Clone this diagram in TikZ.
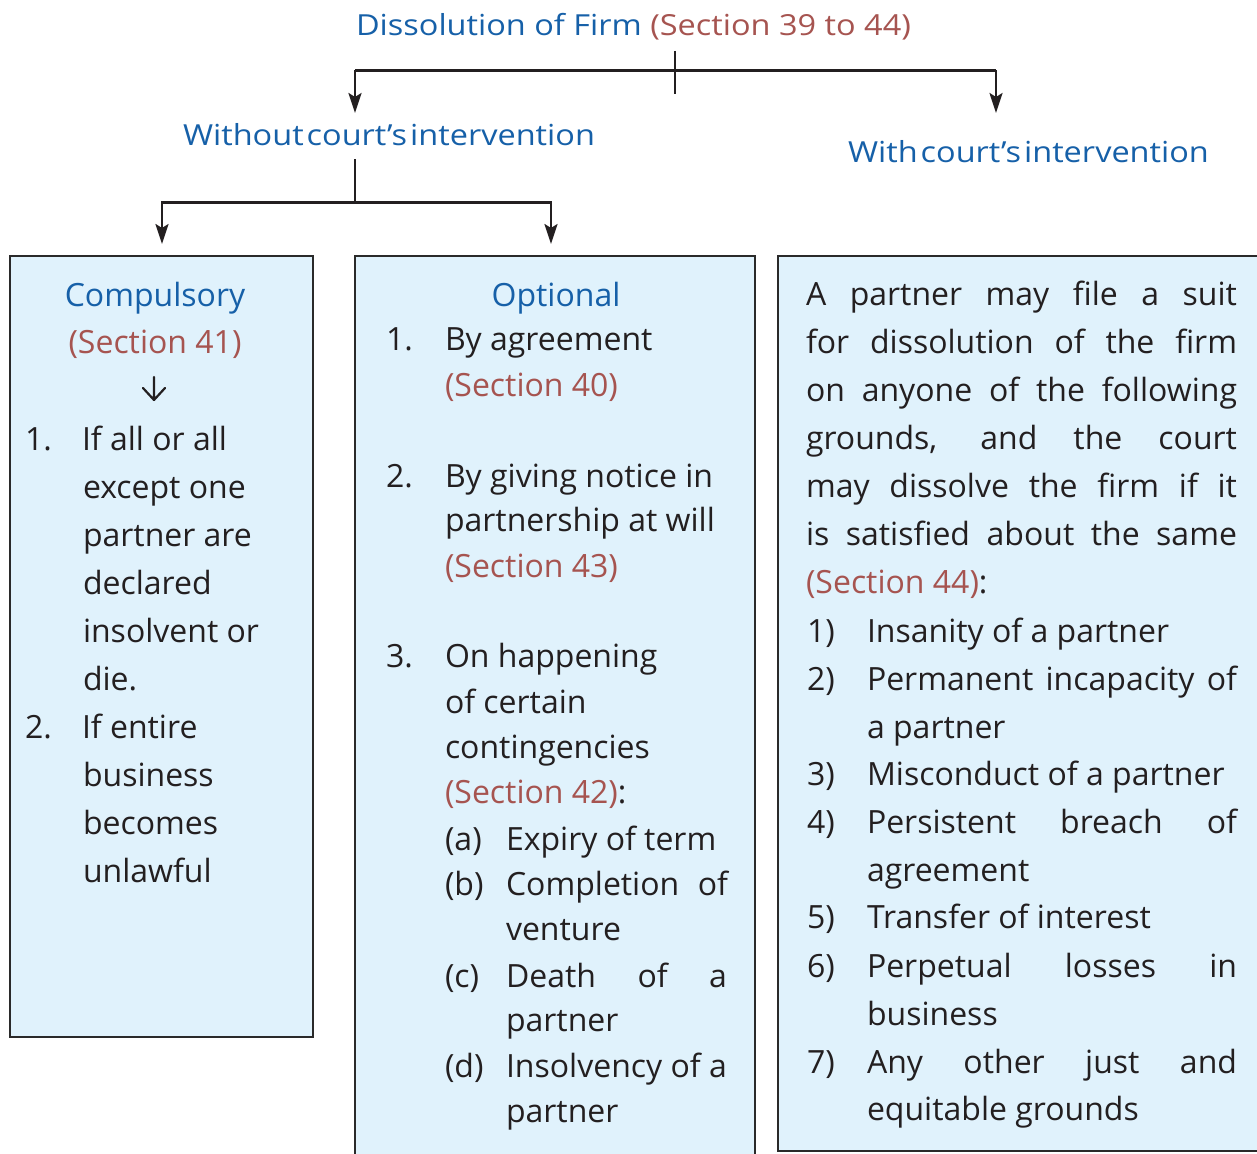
\documentclass[tikz,border=0pt]{standalone}
\usepackage{fontspec}
\setmainfont{Open Sans}
\newfontfamily\headfont[FakeStretch=1.12]{Open Sans}
\usetikzlibrary{arrows.meta}
\definecolor{hdblue}{RGB}{22,96,168}
\definecolor{secred}{RGB}{166,84,80}
\definecolor{boxfill}{RGB}{224,242,252}
\definecolor{ink}{RGB}{35,31,32}
\definecolor{edge}{RGB}{42,42,42}
\begin{document}
\begin{tikzpicture}[x=1pt,y=-1pt,
  txt/.style={anchor=base west, inner sep=0pt, outer sep=0pt, text=ink, font=\fontsize{32}{38}\selectfont},
  sec/.style={txt, text=secred},
  hd/.style={txt, text=hdblue},
  toptxt/.style={txt, text=hdblue, font=\headfont\fontsize{29}{36}\selectfont},
  panel/.style={draw=edge, line width=2.5pt, fill=boxfill, inner sep=0pt, outer sep=0pt, anchor=north west},
  conn/.style={line width=2.4pt, draw=ink, line join=miter},
  hconn/.style={line width=3pt, draw=ink},
  tips/.style={{Stealth[length=20pt,width=13pt,inset=4pt]}-{Stealth[length=20pt,width=13pt,inset=4pt]}}
]
\useasboundingbox (0,0) rectangle (1257,1153);

% ---------- panels ----------
\node[panel, minimum width=303pt, minimum height=781pt] (cbox) at (10,256) {};
\node[panel, minimum width=400pt, minimum height=920pt] (obox) at (355,256) {};
\node[panel, minimum width=480pt, minimum height=895pt] (rbox) at (778,256) {};

% ---------- headings ----------
\node[toptxt] (title) at (356,36) {\textcolor{hdblue}{Dissolution of Firm} \textcolor{secred}{(Section 39 to 44)}};
\node[toptxt] (wo) at (183,145) {Without\hspace{3pt}court’s\hspace{3pt}intervention};
\node[toptxt] (wi) at (848,162) {With\hspace{3pt}court’s\hspace{3pt}intervention};

% ---------- connectors ----------
\coordinate (stemT) at (675,51);
\coordinate (stemB) at (675,94);
\coordinate (hL) at (355,71);
\coordinate (hR) at (996,71);
\coordinate (woTip) at (355,113);
\coordinate (wiTip) at (996,113);
\draw[conn] (stemT) -- (stemB);
\draw[conn,tips] (woTip) -- (hL) -- (hR) -- (wiTip);
\draw[hconn] (hL) -- (hR);

\coordinate (s2T) at (355,159);
\coordinate (s2J) at (355,202);
\coordinate (h2L) at (162,202);
\coordinate (h2R) at (551,202);
\coordinate (cTip) at (162,244);
\coordinate (oTip) at (551,244);
\draw[conn] (s2T) -- (s2J);
\draw[conn,tips] (cTip) -- (h2L) -- (h2R) -- (oTip);
\draw[hconn] (h2L) -- (h2R);

% ---------- compulsory box ----------
\node[hd, anchor=base] (comp) at (155,306) {Compulsory};
\node[sec, anchor=base] (s41) at (155,353) {(Section 41)};
\coordinate (dnA) at (154,377);
\coordinate (dnB) at (154,400);
\coordinate (dnL) at (143,388);
\coordinate (dnR) at (165,388);
\draw[line width=2.2pt, draw=ink, line cap=round, line join=round] (dnA) -- (dnB) (dnL) -- (dnB) -- (dnR);
\node[txt] (c1n) at (25,450) {1.};
\node[txt] (c1a) at (82,450) {If all or all};
\node[txt] (c1b) at (83,498) {except one};
\node[txt] (c1c) at (83,546) {partner are};
\node[txt] (c1d) at (83,594) {declared};
\node[txt] (c1e) at (83,642) {insolvent or};
\node[txt] (c1f) at (83,690) {die.};
\node[txt] (c2n) at (25,738) {2.};
\node[txt] (c2a) at (82,738) {If entire};
\node[txt] (c2b) at (83,786) {business};
\node[txt] (c2c) at (83,834) {becomes};
\node[txt] (c2d) at (83,882) {unlawful};

% ---------- optional box ----------
\node[hd, anchor=base] (opt) at (556,306) {Optional};
\node[txt] (o1n) at (386,350) {1.};
\node[txt] (o1a) at (445,350) {By agreement};
\node[sec] (o1s) at (445,396) {(Section 40)};
\node[txt] (o2n) at (386,487) {2.};
\node[txt] (o2a) at (445,487) {By giving notice in};
\node[txt] (o2b) at (445,531) {partnership at will};
\node[sec] (o2s) at (445,577) {(Section 43)};
\node[txt] (o3n) at (386,667) {3.};
\node[txt] (o3a) at (445,667) {On happening};
\node[txt] (o3b) at (445,713) {of certain};
\node[txt] (o3c) at (445,758) {contingencies};
\node[txt] (o3s) at (445,803) {\textcolor{secred}{(Section 42)}:};
\node[txt] (oan) at (445,850) {(a)};
\node[txt] (oa) at (506,850) {Expiry of term};
\node[txt] (obn) at (445,895) {(b)};
\node[txt] (ob) at (506,895) {\makebox[222pt][s]{Completion of}};
\node[txt] (ob2) at (506,940) {venture};
\node[txt] (ocn) at (445,987) {(c)};
\node[txt] (oc) at (506,987) {\makebox[221pt][s]{Death of a}};
\node[txt] (oc2) at (506,1031) {partner};
\node[txt] (odn) at (445,1077) {(d)};
\node[txt] (od) at (506,1077) {Insolvency of a};
\node[txt] (od2) at (506,1122) {partner};

% ---------- court box ----------
\node[txt] (r1) at (806,305) {\makebox[431pt][s]{A partner may file a suit}};
\node[txt] (r2) at (806,353) {\makebox[431pt][s]{for dissolution of the firm}};
\node[txt] (r3) at (806,401) {\makebox[431pt][s]{on anyone of the following}};
\node[txt] (r4) at (806,449) {\makebox[431pt][s]{grounds, and the court}};
\node[txt] (r5) at (806,497) {\makebox[431pt][s]{may dissolve the firm if it}};
\node[txt] (r6) at (806,545) {\makebox[431pt][s]{is satisfied about the same}};
\node[txt] (r7) at (806,593) {\textcolor{secred}{(Section 44)}:};
\node[txt] (g1n) at (807,642) {1)};
\node[txt] (g1) at (867,642) {Insanity of a partner};
\node[txt] (g2n) at (807,690) {2)};
\node[txt] (g2) at (867,690) {\makebox[370pt][s]{Permanent incapacity of}};
\node[txt] (g2b) at (867,738) {a partner};
\node[txt] (g3n) at (807,785) {3)};
\node[txt] (g3) at (867,785) {Misconduct of a partner};
\node[txt] (g4n) at (807,833) {4)};
\node[txt] (g4) at (867,833) {\makebox[370pt][s]{Persistent breach of}};
\node[txt] (g4b) at (867,881) {agreement};
\node[txt] (g5n) at (807,928) {5)};
\node[txt] (g5) at (867,928) {Transfer of interest};
\node[txt] (g6n) at (807,977) {6)};
\node[txt] (g6) at (867,977) {\makebox[370pt][s]{Perpetual losses in}};
\node[txt] (g6b) at (867,1025) {business};
\node[txt] (g7n) at (807,1073) {7)};
\node[txt] (g7) at (867,1073) {\makebox[370pt][s]{Any other just and}};
\node[txt] (g7b) at (867,1120) {equitable grounds};
\end{tikzpicture}
\end{document}
